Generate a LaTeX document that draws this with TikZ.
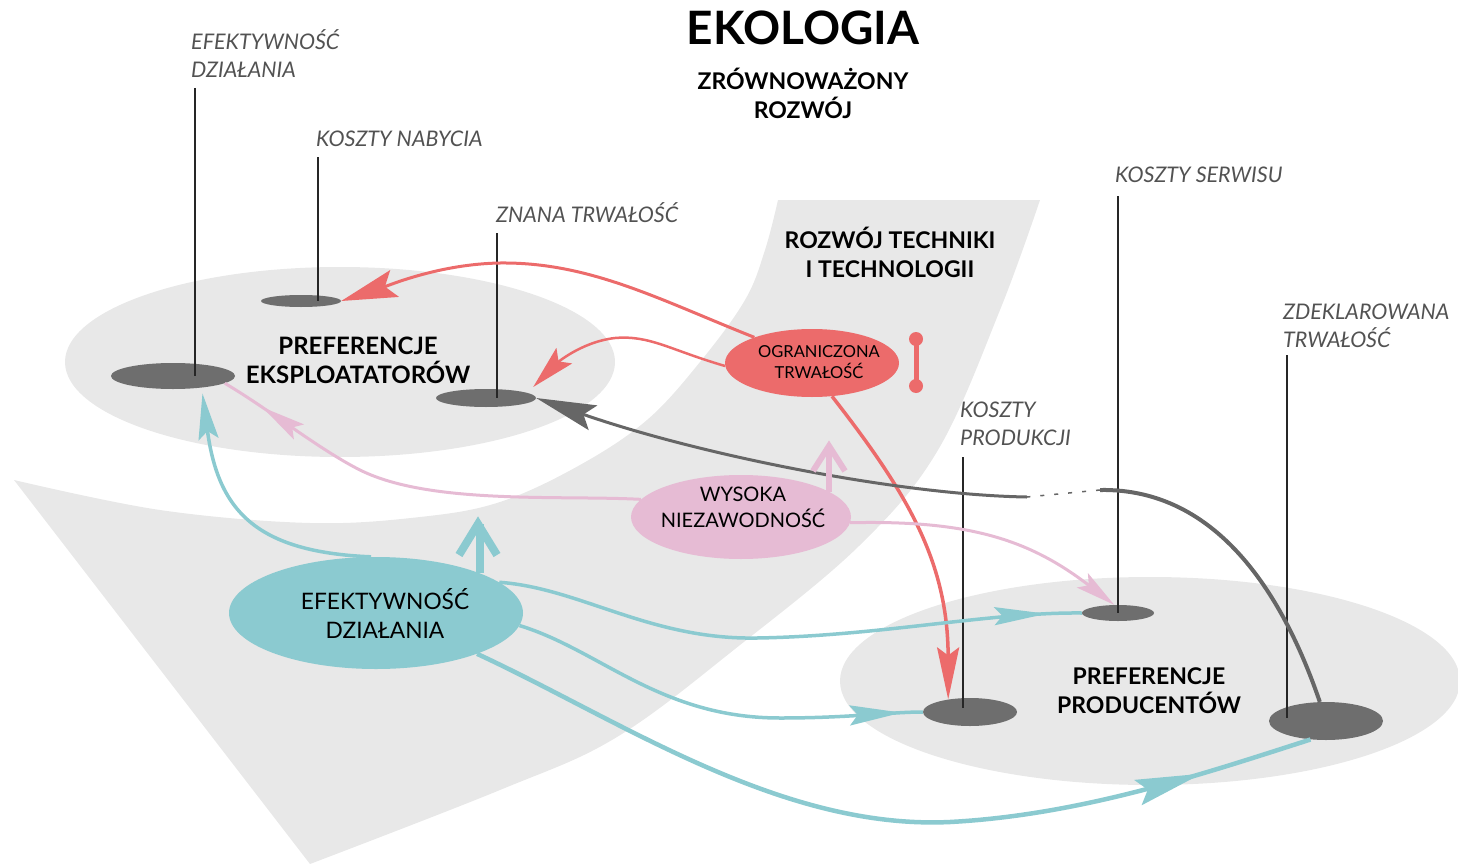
\documentclass[tikz,border=0pt]{standalone}
\usepackage{fontspec}
\setmainfont{Lato}
\usetikzlibrary{shapes.geometric, arrows.meta, decorations.markings}
\definecolor{bg}{HTML}{E8E8E8}
\definecolor{dk}{HTML}{6E6E6E}
\definecolor{tl}{HTML}{8BCAD0}
\definecolor{pk}{HTML}{E6BBD4}
\definecolor{rd}{HTML}{EC6B6B}
\definecolor{gy}{HTML}{666666}
\begin{document}
\begin{tikzpicture}[x=1pt,y=-1pt,
  disc/.style={ellipse, fill=dk, draw=none, inner sep=0pt},
  lbl/.style={font=\fontsize{21.5}{28}\selectfont\itshape, text=black!68, align=left, anchor=west, inner sep=0pt},
  head/.style={font=\fontsize{23}{29}\selectfont\bfseries, align=center, inner sep=0pt},
  pole/.style={draw=black!85, line width=1.3pt},
  bubble/.style={ellipse, draw=none, inner sep=0pt},
  btext/.style={align=center, inner sep=0pt},
  tlink/.style={tl, line width=3.5pt},
  plink/.style={pk, line width=3pt},
  rlink/.style={rd, line width=3pt},
  glink/.style={gy, line width=3pt},
  midtip/.style 2 args={postaction={decorate}, decoration={markings, mark=at position #1 with {\arrow{#2}}}},
]
\useasboundingbox (0,0) rectangle (1458,864);
% background shapes
\fill[bg] (340,362) ellipse [x radius=275pt, y radius=95pt];
\fill[bg] (1150,681) ellipse [x radius=310pt, y radius=104pt];
\fill[bg] plot[smooth, tension=0.6] coordinates {(14,480) (160,510) (310,523) (420,517) (500,502) (580,465) (647,420) (700,362) (745,300) (765,250) (778,200)}
  -- plot[smooth, tension=0.6] coordinates {(1040,200) (1000,310) (938,450) (860,545) (740,645) (617,737) (500,790) (310,864)} -- cycle;

% titles
\node[font=\fontsize{46}{50}\selectfont\bfseries, inner sep=0pt] (title) at (803,28) {EKOLOGIA};
\node[head] (sub) at (803,93) {ZRÓWNOWAŻONY\\ROZWÓJ};
\node[head] (tech) at (890,252) {ROZWÓJ TECHNIKI\\I TECHNOLOGII};
\node[head, font=\fontsize{24}{29}\selectfont\bfseries] (pexp) at (358,360) {PREFERENCJE\\EKSPLOATATORÓW};
\node[head] (pprod) at (1149,691) {PREFERENCJE\\PRODUCENTÓW};

% labels
\node[lbl] (l1) at (191,54) {EFEKTYWNOŚĆ\\DZIAŁANIA};
\node[lbl] (l2) at (316,139) {KOSZTY NABYCIA};
\node[lbl] (l3) at (496,213) {ZNANA TRWAŁOŚĆ};
\node[lbl] (l4) at (1115,175) {KOSZTY SERWISU};
\node[lbl] (l5) at (1283,326) {ZDEKLAROWANA\\TRWAŁOŚĆ};
\node[lbl] (l6) at (960,424) {KOSZTY\\PRODUKCJI};

% discs
\node[disc, minimum width=124pt, minimum height=26pt] (dA) at (173,376) {};
\node[disc, minimum width=80pt, minimum height=12pt] (dB) at (301,301) {};
\node[disc, minimum width=100pt, minimum height=18pt] (dC) at (486,398) {};
\node[disc, minimum width=94pt, minimum height=28pt] (dD) at (970,712) {};
\node[disc, minimum width=72pt, minimum height=16pt] (dE) at (1118,613) {};
\node[disc, minimum width=114pt, minimum height=38pt] (dF) at (1326,721) {};

% poles
\coordinate (q1) at (195,88);
\coordinate (q2) at (318,157);
\coordinate (q3) at (497,233);
\coordinate (q4) at (963,457);
\coordinate (q5) at (1118,196);
\coordinate (q6) at (1287,355);
\draw[pole] (q1) -- (q1 |- dA.center);
\draw[pole] (q2) -- (q2 |- dB.center);
\draw[pole] (q3) -- (q3 |- dC.center);
\draw[pole] (q4) -- ([yshift=4pt]q4 |- dD.center);
\draw[pole] (q5) -- (q5 |- dE.center);
\draw[pole] (q6) -- ([yshift=3pt]q6 |- dF.center);

% bubbles
\node[bubble, fill=tl, minimum width=294pt, minimum height=112pt] (eff) at (376,613) {};
\node[btext, font=\fontsize{22.7}{29}\selectfont] (efft) at (385,613) {EFEKTYWNOŚĆ\\DZIAŁANIA};
\node[bubble, fill=pk, minimum width=220pt, minimum height=84pt] (rel) at (741,517) {};
\node[btext, font=\fontsize{20}{26}\selectfont] (relt) at (743,507) {WYSOKA\\NIEZAWODNOŚĆ};
\node[bubble, fill=rd, minimum width=174pt, minimum height=68pt] (lim) at (812,363) {};
\node[btext, font=\fontsize{16.5}{21}\selectfont] (limt) at (819,362) {OGRANICZONA\\TRWAŁOŚĆ};

% red I-beam
\coordinate (ib1) at (916,339);
\coordinate (ib2) at (916,386);
\draw[rd, line width=5pt] (ib1) -- (ib2);
\fill[rd] (ib1) circle[radius=7pt];
\fill[rd] (ib2) circle[radius=7pt];

% red connectors
\draw[rlink, -{Stealth[length=56pt,width=28pt,inset=10pt]}] (lim.156) .. controls (660,300) and (590,262) .. (500,263) .. controls (440,264) and (390,285) .. (dB.east);
\draw[rlink, line width=2.5pt, -{Stealth[length=44pt,width=22pt,inset=8pt]}] (lim.182) .. controls (670,350) and (650,335) .. (615,338) .. controls (580,342) and (555,365) .. ([shift={(-3,-11)}]dC.east);
\draw[rlink, line width=3.5pt, -{Stealth[length=52pt,width=22pt,inset=8pt]}] (lim.301) .. controls (905,490) and (948,560) .. (dD.150);

% grey connector
\coordinate (g1) at (1100,490);
\coordinate (g2) at (1027,497);
\draw[glink, line width=4pt] (dF.108) .. controls (1285,600) and (1220,488) .. (g1);
\draw[glink, line width=1.5pt, dash pattern=on 4pt off 10pt] (g1) -- (g2);
\draw[glink, -{Stealth[length=60pt,width=26pt,inset=10pt]}] (g2) .. controls (900,495) and (700,455) .. (dC.east);

% teal connectors
\draw[tlink, -{Stealth[length=46pt,width=20pt,inset=8pt]}] (eff.95) .. controls (255,552) and (218,510) .. ([shift={(8,5)}]dA.-30);
\draw[tlink, midtip={0.94}{Stealth[length=52pt,width=18pt,inset=8pt]}] (eff.14) .. controls (580,588) and (650,640) .. (757,638) .. controls (880,636) and (990,612) .. (dE.west);
\draw[tlink, midtip={0.95}{Stealth[length=52pt,width=20pt,inset=8pt]}] (eff.-5) .. controls (600,650) and (660,718) .. (780,718) .. controls (850,718) and (890,712) .. (dD.west);
\draw[tlink, line width=4.5pt, midtip={0.87}{Stealth[length=66pt,width=26pt,inset=10pt]}] (eff.-22) .. controls (620,720) and (780,830) .. (950,822) .. controls (1080,815) and (1200,775) .. (dF.230);

% teal up arrow
\coordinate (tu) at (478,524);
\draw[tl, line width=8pt] (eff.21) -- (eff.21 |- tu);
\draw[tl, line width=8pt, miter limit=10] ([shift={(-19,31)}]tu) -- (tu) -- ([shift={(19,31)}]tu);

% pink connectors
\draw[plink, midtip={0.9}{Stealth[length=44pt,width=18pt,inset=8pt]}] (rel.170) .. controls (560,495) and (430,505) .. (360,470) .. controls (320,450) and (270,410) .. (dA.-8);
\draw[plink, -{Stealth[length=40pt,width=18pt,inset=8pt]}] (rel.-3) .. controls (970,520) and (1030,540) .. (dE.115);

% pink up arrow
\coordinate (pu) at (829,446);
\draw[pk, line width=6pt] (rel.16) -- (rel.16 |- pu);
\draw[pk, line width=6pt, miter limit=10] ([shift={(-16,25)}]pu) -- (pu) -- ([shift={(16,25)}]pu);
\end{tikzpicture}
\end{document}
